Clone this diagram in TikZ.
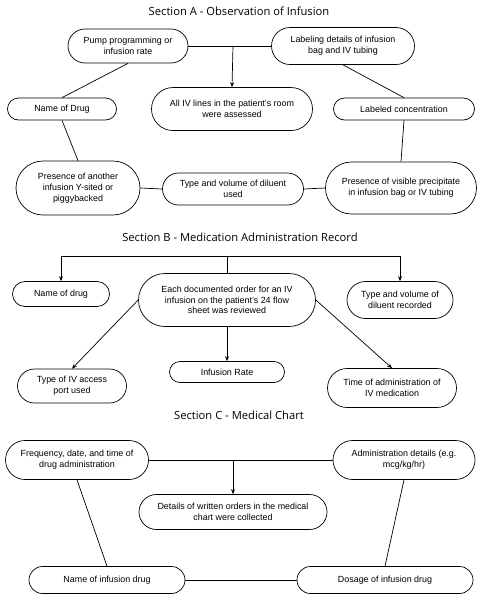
\documentclass[tikz,border=0pt]{standalone}
\usepackage{fontspec}
\setmainfont{Liberation Sans}
\newfontfamily\titlefont{Open Sans}
\usetikzlibrary{shapes.misc,arrows.meta}
\begin{document}
\begin{tikzpicture}[x=1pt,y=-1pt,
  pill/.style={rounded rectangle, draw, line width=0.7pt, inner sep=0pt, align=center,
    font=\fontsize{8.9}{10.7}\selectfont},
  conn/.style={line width=0.7pt},
  arr/.style={line width=0.7pt,-{Stealth[length=5pt,width=4pt]}},
  ttl/.style={font=\titlefont\fontsize{11.2}{13}\selectfont}]
\useasboundingbox (0,0) rectangle (482,600);
% Section A
\node[ttl] (tA) at (239,11) {Section A - Observation of Infusion};
\node[pill,minimum width=120pt,minimum height=34pt] (pump) at (128,46) {Pump programming or\\infusion rate};
\node[pill,minimum width=143pt,minimum height=37pt] (label) at (343,46) {Labeling details of infusion\\bag and IV tubing};
\node[pill,minimum width=161pt,minimum height=43pt] (allIV) at (232,109) {All IV lines in the patient's room\\were assessed};
\node[pill,minimum width=109pt,minimum height=22pt] (nameA) at (62,109) {Name of Drug};
\node[pill,minimum width=141pt,minimum height=22pt] (conc) at (404,109) {Labeled concentration};
\node[pill,minimum width=124pt,minimum height=54pt] (another) at (78,188) {Presence of another\\infusion Y-sited or\\piggybacked};
\node[pill,minimum width=141pt,minimum height=32pt] (diluA) at (233,189) {Type and volume of diluent\\used};
\node[pill,minimum width=151pt,minimum height=52pt] (visible) at (401,188) {Presence of visible precipitate\\in infusion bag or IV tubing};
\coordinate (jA) at (233,46);
\draw[conn] (pump.east) -- (label.west);
\draw[arr] (jA) -- (allIV.north);
\draw[conn] (pump.south) -- (nameA.north);
\draw[conn] (label.south) -- (conc.north);
\draw[conn] (nameA.south) -- (another.north);
\draw[conn] (conc.south) -- (visible.north);
\draw[conn] (another.east) -- (diluA.west);
\draw[conn] (diluA.east) -- (visible.west);
% Section B
\node[ttl] (tB) at (240,237) {Section B - Medication Administration Record};
\node[pill,minimum width=97pt,minimum height=25pt] (nameB) at (61,294) {Name of drug};
\node[pill,minimum width=177pt,minimum height=53pt] (each) at (227,300) {Each documented order for an IV\\infusion on the patient's 24 flow\\sheet was reviewed};
\node[pill,minimum width=106pt,minimum height=37pt] (diluB) at (400,300) {Type and volume of\\diluent recorded};
\node[pill,minimum width=115pt,minimum height=21pt] (rate) at (227,372) {Infusion Rate};
\node[pill,minimum width=109pt,minimum height=34pt] (port) at (72,386) {Type of IV access\\port used};
\node[pill,minimum width=129pt,minimum height=39pt] (time) at (392,388) {Time of administration of\\IV medication};
\coordinate (jB) at (227,256);
\draw[conn] (each.north) -- (jB);
\draw[arr] (jB) -| (nameB.north);
\draw[arr] (jB) -| (diluB.north);
\draw[arr] (each.south) -- (rate.north);
\draw[arr] (each.west) -- (port.north);
\draw[arr] (each.east) -- (time.north);
% Section C
\node[ttl] (tC) at (239,415) {Section C - Medical Chart};
\node[pill,minimum width=143pt,minimum height=39pt] (freq) at (77,460) {Frequency, date, and time of\\drug administration};
\node[pill,minimum width=142pt,minimum height=39pt] (admin) at (404,460) {Administration details (e.g.\\mcg/kg/hr)};
\node[pill,minimum width=188pt,minimum height=35pt] (details) at (233,512) {Details of written orders in the medical\\chart were collected};
\node[pill,minimum width=156pt,minimum height=27pt] (nameC) at (107,580) {Name of infusion drug};
\node[pill,minimum width=176pt,minimum height=27pt] (dose) at (385,580) {Dosage of infusion drug};
\coordinate (jC) at (233,460);
\draw[conn] (freq.east) -- (admin.west);
\draw[arr] (jC) -- (details.north);
\draw[conn] (freq.south) -- (nameC.north);
\draw[conn] (admin.south) -- (dose.north);
\draw[conn] (nameC.east) -- (dose.west);
\end{tikzpicture}
\end{document}
